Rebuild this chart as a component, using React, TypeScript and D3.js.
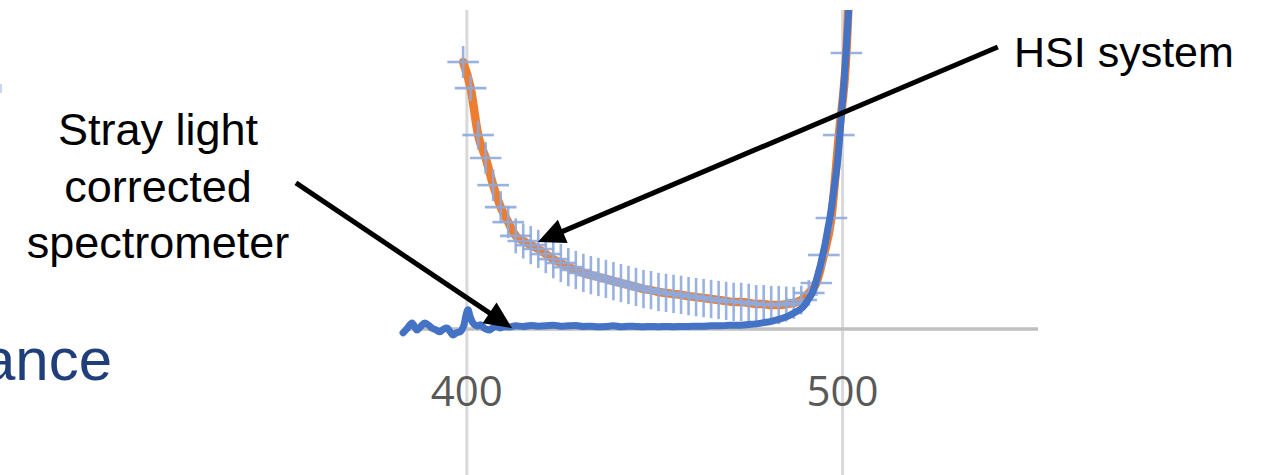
import React from "react";
import * as d3 from "d3";

// Stray-light corrected spectrometer (blue line)
const blueWl = [383.0, 384.2, 385.4, 386.7, 387.8, 388.8, 390.0, 390.7, 391.8, 392.8, 393.8, 394.7, 395.5, 396.3, 397.2, 398.1, 399.2, 399.8, 400.3, 400.9, 401.6, 402.3, 402.9, 403.6, 404.3, 405.2, 406.1, 407.0, 407.8, 408.8, 410.0, 411.4, 413, 415, 417, 419, 421, 423, 425, 427, 429, 431, 433, 435, 437, 439, 441, 443, 445, 447, 449, 451, 453, 455, 457, 459, 461, 463, 465, 467, 469, 471, 473, 475, 477, 479, 481, 483, 485, 487, 488.5, 489.9, 491, 491.8, 492.6, 493.4, 494.1, 494.7, 495.4, 496.0, 496.7, 497.3, 498.0, 498.7, 499.2, 499.7, 500.3, 500.8, 501.2, 501.6, 502.2];
const blueVal = [-1.2, 0.3, 1.9, -0.3, 0.9, 1.9, 1.0, 0.3, -0.3, -0.9, 0.0, 0.3, -0.8, -1.9, -1.2, -0.9, 1.2, 4.5, 6.0, 3.8, 1.9, 1.2, 0.9, 1.3, 0.6, -0.1, -0.3, 0.5, 0.9, 0.3, 0.8, 0.6, 1.0, 0.8, 1.1, 0.9, 1.0, 1.2, 0.9, 1.0, 1.1, 0.8, 0.9, 0.7, 0.8, 1.0, 0.7, 0.9, 0.8, 0.7, 0.8, 0.7, 0.8, 0.7, 0.8, 0.8, 0.9, 0.9, 1.0, 1.0, 1.1, 1.2, 1.2, 1.4, 1.6, 2.0, 2.4, 3.0, 3.8, 5.0, 6.0, 7.5, 9.5, 11.0, 13.5, 17.0, 20.0, 23.2, 27.0, 31.0, 35.5, 40.4, 46.5, 53.0, 60.0, 67.7, 76.0, 84.3, 92.0, 100.0, 112.0];

// HSI system (orange line with light-blue error bars)
const hsiWl = [399, 401, 403, 405, 407, 409, 411, 413, 415, 417, 419, 421, 423, 425, 427, 429, 431, 433, 435, 437, 439, 441, 443, 445, 447, 449, 451, 453, 455, 457, 459, 461, 463, 465, 467, 469, 471, 473, 475, 477, 479, 481, 483, 485, 487, 489, 491, 493, 495, 497, 499, 501, 503];
const hsiVal = [83.7, 75.5, 60.8, 53.6, 45.1, 38.2, 33.5, 29.2, 27.6, 26.3, 25.1, 23.5, 21.9, 20.7, 19.4, 18.5, 17.6, 16.9, 16.3, 15.7, 15.0, 14.4, 13.8, 13.2, 12.5, 12.2, 11.6, 11.3, 11.0, 10.7, 10.3, 10.0, 9.7, 9.4, 9.1, 8.8, 8.5, 8.5, 8.2, 7.8, 7.8, 7.5, 7.5, 7.8, 8.2, 9.1, 11.3, 14.4, 23.2, 34.8, 60.8, 86.5, 150];
const hsiErrY = [5, 4, 4.5, 5, 5, 5, 5, 5.5, 5.5, 6, 6, 6, 6, 6, 6, 6, 6, 6, 6, 6, 6, 6, 6, 6, 6, 6, 6, 6, 6, 6, 6, 6, 6, 6, 6, 6, 6, 6, 6, 6, 6, 6, 6, 5.5, 5, 4.5, 4, 4, 4, 4, 4, 4, 4];
const hsiErrX = 4.2;

const xTicks = [400, 500];

// annotations: [label lines], arrow start/end in data units
const strayLines = ["Stray light", "corrected", "spectrometer"];
const hsiLabel = "HSI system";
const arrowHsi = { from: [541.3, 88.4], to: [418.9, 27.3] };
const arrowStray = { from: [354.5, 45.8], to: [412.0, 0.3] };

const W = 1263;
const H = 475;

export default function App() {
  const x = d3.scaleLinear().domain([383, 552]).range([403, 1038]);
  const y = d3.scaleLinear().domain([0, 100]).range([329, 10]);

  const line = d3
    .line<[number, number]>()
    .x((d) => x(d[0]))
    .y((d) => y(d[1]))
    .curve(d3.curveMonotoneX);

  const bluePath = line(blueWl.map((w, i) => [w, blueVal[i]]));
  const orangePath = line(hsiWl.map((w, i) => [w, hsiVal[i]]));

  const arrow = (a: { from: number[]; to: number[] }) => {
    const x1 = x(a.from[0]);
    const y1 = y(a.from[1]);
    const x2 = x(a.to[0]);
    const y2 = y(a.to[1]);
    const dx = x2 - x1;
    const dy = y2 - y1;
    const len = Math.hypot(dx, dy);
    const ux = dx / len;
    const uy = dy / len;
    const hl = 27;
    const hw = 12.5;
    const bx = x2 - ux * hl;
    const by = y2 - uy * hl;
    const pts = [
      [x2, y2],
      [bx - uy * hw, by + ux * hw],
      [bx + uy * hw, by - ux * hw],
    ];
    return (
      <g>
        <line x1={x1} y1={y1} x2={bx + ux * 2} y2={by + uy * 2} stroke="#000" strokeWidth={5} />
        <polygon points={pts.map((p) => p.join(",")).join(" ")} fill="#000" />
      </g>
    );
  };

  return (
    <svg
      width={W}
      height={H}
      style={{ position: "absolute", left: 0, top: 0, background: "#fff" }}
    >
      <defs>
        <clipPath id="plot">
          <rect x={398} y={10} width={647} height={470} />
        </clipPath>
      </defs>
      <rect x={0} y={0} width={W} height={H} fill="#fff" />

      {/* gridlines */}
      {xTicks.map((t) => (
        <line key={t} x1={x(t)} x2={x(t)} y1={10} y2={H} stroke="#D9D9D9" strokeWidth={3} />
      ))}
      {/* horizontal axis */}
      <line x1={x(383)} x2={x(552)} y1={y(0)} y2={y(0)} stroke="#BFBFBF" strokeWidth={3.5} />

      {/* tick labels */}
      {xTicks.map((t) => (
        <text
          key={"l" + t}
          x={x(t)}
          y={406}
          textAnchor="middle"
          fontFamily="'Open Sans', sans-serif"
          fontSize={42}
          fill="#595959"
        >
          {t}
        </text>
      ))}

      <g clipPath="url(#plot)">
        <path d={orangePath || ""} fill="none" stroke="#ED7D31" strokeWidth={8.5} strokeLinecap="round" strokeLinejoin="round" />
        {hsiWl.map((w, i) => (
          <g key={"e" + i} stroke="#8FAADC" strokeWidth={2.6} opacity={0.9}>
            <line x1={x(w)} x2={x(w)} y1={y(hsiVal[i] - hsiErrY[i])} y2={y(hsiVal[i] + hsiErrY[i])} />
            <line x1={x(w - hsiErrX)} x2={x(w + hsiErrX)} y1={y(hsiVal[i])} y2={y(hsiVal[i])} />
          </g>
        ))}
        <path d={bluePath || ""} fill="none" stroke="#4472C4" strokeWidth={7} strokeLinecap="round" strokeLinejoin="round" />
      </g>

      {/* annotations */}
      {arrow(arrowHsi)}
      {arrow(arrowStray)}

      {strayLines.map((s, i) => (
        <text
          key={s}
          x={158}
          y={145 + i * 56.5}
          textAnchor="middle"
          fontFamily="'Liberation Sans', Arial, sans-serif"
          fontSize={45}
          fill="#000"
        >
          {s}
        </text>
      ))}
      <text x={1014} y={67} fontFamily="'Liberation Sans', Arial, sans-serif" fontSize={43} fill="#000">
        {hsiLabel}
      </text>

      <text x={112} y={380} textAnchor="end" fontFamily="'Liberation Sans', Arial, sans-serif" fontSize={60} fill="#203F7A">
        ance
      </text>
      <rect x={0} y={84} width={2} height={9} fill="#C9D6EE" />
    </svg>
  );
}
